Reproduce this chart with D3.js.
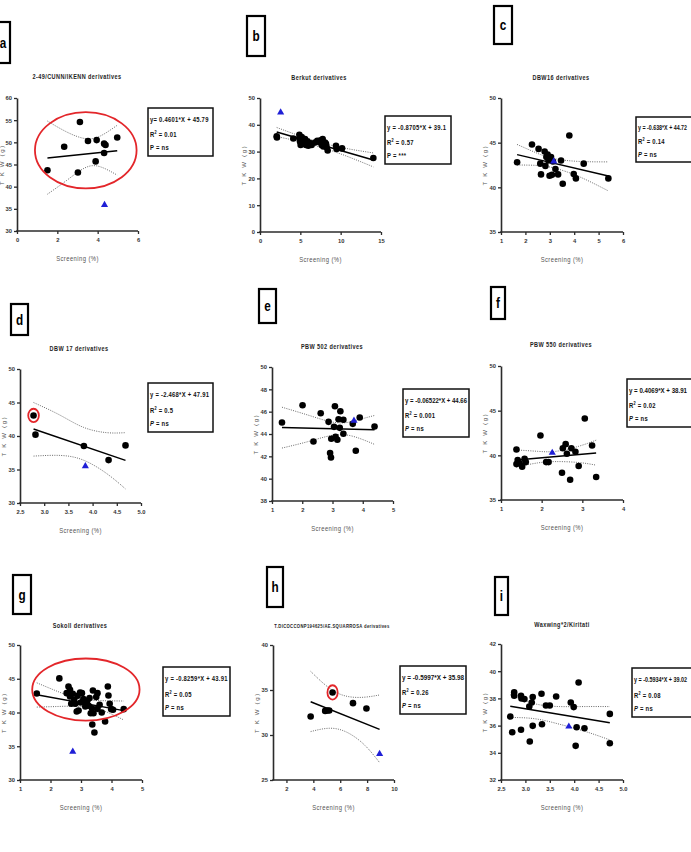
<!DOCTYPE html>
<html><head><meta charset="utf-8">
<script src="https://cdn.jsdelivr.net/npm/d3@7"></script>
<style>
body{margin:0;background:#fff;}
svg{display:block;}
text{font-family:"Liberation Sans",Arial,sans-serif;}
</style></head><body>
<svg id="chart" width="691" height="852"></svg>
<script>
// ---------- DATA ----------
// Panel a: 2-49/CUNN/IKENN derivatives
const a_title = "2-49/CUNN/IKENN derivatives";
const a_screening = [1.51, 2.34, 3.12, 3.02, 3.52, 3.95, 3.90, 4.32, 4.39, 4.32, 4.97];
const a_tkw = [43.7, 49.0, 54.6, 43.2, 50.3, 50.5, 45.7, 49.7, 49.4, 47.6, 51.1];
const a_parent = [4.34, 35.9];
const a_fit = [0.4601, 45.79];
const a_bandX = [1.51, 2.46, 3.37, 4.12, 4.97];
const a_bandUpper = [54.8, 52.35, 50.85, 51.4, 53.85];
const a_bandLower = [38.3, 41.4, 44.25, 44.5, 42.6];
const a_xTicks = [0, 2, 4, 6];
const a_yTicks = [30, 35, 40, 45, 50, 55, 60];
const a_eq = ["y= 0.4601*X + 45.79", "0.01", "ns"];
const a_ring = [3.41, 48.2, 2.52, 8.6];

// Panel b: Berkut derivatives
const b_title = "Berkut derivatives";
const b_screening = [2.07, 2.10, 4.13, 4.88, 4.88, 4.96, 5.04, 5.17, 5.29, 5.45, 5.58, 5.70, 5.87, 5.99, 6.20, 6.40, 6.82, 7.10, 7.36, 7.52, 7.64, 7.77, 7.85, 8.06, 8.18, 8.26, 8.39, 9.42, 9.50, 10.17, 14.05];
const b_tkw = [35.7, 35.3, 34.9, 36.3, 35.0, 33.8, 32.5, 35.4, 34.4, 33.2, 34.7, 32.5, 33.8, 32.2, 33.2, 32.5, 33.4, 34.0, 33.8, 34.2, 32.5, 34.7, 31.9, 33.4, 32.9, 31.6, 30.4, 32.2, 31.0, 31.2, 27.6];
const b_parent = [2.56, 44.6];
const b_fit = [-0.8705, 39.1];
const b_bandX = [2.07, 5, 8, 11, 14.05];
const b_bandUpper = [39.0, 35.8, 33.0, 31.0, 29.5];
const b_bandLower = [35.6, 33.7, 31.2, 28.0, 24.3];
const b_xTicks = [0, 5, 10, 15];
const b_yTicks = [0, 10, 20, 30, 40, 50];
const b_eq = ["y = -0.8705*X + 39.1", "0.57", "***"];

// Panel c: DBW16 derivatives
const c_title = "DBW16 derivatives";
const c_screening = [1.66, 2.27, 2.54, 2.61, 2.64, 2.79, 2.82, 2.86, 2.91, 2.95, 2.99, 3.05, 3.09, 3.13, 3.23, 3.34, 3.46, 3.53, 3.80, 3.98, 4.07, 4.39, 5.40];
const c_tkw = [42.8, 44.8, 44.3, 42.65, 41.45, 44.0, 42.4, 43.4, 43.66, 43.0, 41.3, 43.4, 41.4, 42.9, 42.05, 41.45, 43.0, 40.4, 45.8, 41.5, 41.0, 42.65, 41.0];
const c_parent = [3.16, 42.9];
const c_fit = [-0.638, 44.72];
const c_bandX = [1.66, 2.5, 3.2, 4.2, 5.4];
const c_bandUpper = [44.8, 43.8, 43.2, 42.9, 42.85];
const c_bandLower = [42.5, 42.45, 42.15, 41.2, 39.6];
const c_xTicks = [1, 2, 3, 4, 5, 6];
const c_yTicks = [35, 40, 45, 50];
const c_eq = ["y = -0.638*X + 44.72", "0.14", "ns"];

// Panel d: DBW 17 derivatives
const d_title = "DBW 17 derivatives";
const d_screening = [2.78, 2.82, 3.82, 4.33, 4.68];
const d_tkw = [43.07, 40.2, 38.5, 36.4, 38.6];
const d_parent = [3.85, 35.5];
const d_fit = [-2.468, 47.91];
const d_bandX = [2.78, 3.33, 3.81, 4.29, 4.68];
const d_bandUpper = [45.0, 43.1, 41.3, 40.5, 40.5];
const d_bandLower = [37.0, 37.1, 36.4, 34.4, 32.1];
const d_xTicks = [2.5, 3.0, 3.5, 4.0, 4.5, 5.0];
const d_yTicks = [30, 35, 40, 45, 50];
const d_eq = ["y = -2.468*X + 47.91", "0.5", "ns"];
const d_ring = [2.78, 43.07, 0.11, 1.0];

// Panel e: PBW 502 derivatives
const e_title = "PBW 502 derivatives";
const e_screening = [1.33, 2.01, 2.37, 2.61, 2.87, 2.92, 2.95, 2.96, 3.05, 3.08, 3.10, 3.16, 3.20, 3.26, 3.24, 3.36, 3.36, 3.67, 3.77, 3.90, 4.39];
const e_tkw = [45.03, 46.58, 43.33, 45.86, 45.09, 42.29, 41.9, 43.57, 44.64, 46.49, 43.75, 43.48, 45.32, 46.04, 44.55, 45.27, 44.02, 44.91, 42.5, 45.48, 44.67];
const e_parent = [3.71, 45.2];
const e_fit = [-0.06522, 44.66];
const e_bandX = [1.33, 2.3, 3.2, 3.9, 4.39];
const e_bandUpper = [46.4, 45.6, 45.0, 45.3, 45.66];
const e_bandLower = [42.74, 43.4, 43.95, 43.6, 43.07];
const e_xTicks = [1, 2, 3, 4, 5];
const e_yTicks = [38, 40, 42, 44, 46, 48, 50];
const e_eq = ["y = -0.06522*X + 44.66", "0.001", "ns"];

// Panel f: PBW 550 derivatives
const f_title = "PBW 550 derivatives";
const f_screening = [1.38, 1.38, 1.41, 1.46, 1.52, 1.58, 1.61, 1.97, 2.11, 2.17, 2.50, 2.52, 2.59, 2.62, 2.70, 2.73, 2.83, 2.91, 3.06, 3.24, 3.34];
const f_tkw = [40.66, 39.02, 39.47, 39.1, 38.72, 39.6, 39.24, 42.22, 39.24, 39.24, 38.05, 40.8, 41.25, 40.17, 37.27, 40.8, 40.4, 38.8, 44.12, 41.1, 37.57];
const f_parent = [2.26, 40.29];
const f_fit = [0.4069, 38.91];
const f_bandX = [1.38, 1.9, 2.35, 2.9, 3.34];
const f_bandUpper = [40.6, 40.45, 40.45, 41.0, 41.7];
const f_bandLower = [38.7, 39.15, 39.3, 39.2, 38.9];
const f_xTicks = [1, 2, 3, 4];
const f_yTicks = [35, 40, 45, 50];
const f_eq = ["y = 0.4069*X + 38.91", "0.02", "ns"];

// Panel g: Sokoll derivatives
const g_title = "Sokoll derivatives";
const g_screening = [1.55, 2.29, 2.53, 2.59, 2.64, 2.64, 2.68, 2.73, 2.78, 2.81, 2.86, 2.89, 2.92, 2.97, 2.99, 3.03, 3.08, 3.14, 3.17, 3.21, 3.25, 3.28, 3.32, 3.36, 3.37, 3.39, 3.41, 3.44, 3.50, 3.54, 3.54, 3.61, 3.68, 3.79, 3.88, 3.90, 3.94, 3.99, 4.05, 4.40];
const g_tkw = [42.82, 45.05, 42.87, 43.86, 43.37, 42.38, 41.29, 42.77, 41.88, 41.29, 40.15, 42.48, 40.3, 42.97, 41.49, 42.87, 41.98, 40.89, 41.49, 41.78, 40.99, 42.13, 39.9, 40.64, 38.22, 43.27, 39.9, 37.03, 42.28, 42.87, 40.54, 41.14, 40.0, 38.66, 43.86, 42.52, 41.29, 40.5, 40.4, 40.5];
const g_parent = [2.73, 34.2];
const g_fit = [-0.8259, 43.91];
const g_bandX = [1.55, 2.3, 3.0, 3.7, 4.4];
const g_bandUpper = [44.4, 43.0, 42.0, 41.75, 41.7];
const g_bandLower = [40.8, 40.9, 40.9, 40.3, 38.9];
const g_xTicks = [1, 2, 3, 4, 5];
const g_yTicks = [30, 35, 40, 45, 50];
const g_eq = ["y = -0.8259*X + 43.91", "0.05", "ns"];
const g_ring = [3.16, 43.4, 1.76, 4.6];

// Panel h: T.DICOCCONP194625/AE.SQUARROSA derivatives
const h_title = "T.DICOCCONP194625/AE.SQUARROSA derivatives";
const h_screening = [3.8, 4.88, 5.05, 5.18, 5.43, 6.95, 7.95];
const h_tkw = [32.05, 32.68, 32.72, 32.72, 34.73, 33.54, 32.94];
const h_parent = [8.93, 27.9];
const h_fit = [-0.5997, 35.98];
const h_bandX = [3.8, 5.2, 6.5, 7.8, 8.93];
const h_bandUpper = [37.07, 35.2, 34.3, 34.2, 34.45];
const h_bandLower = [30.38, 30.75, 30.3, 28.9, 26.93];
const h_xTicks = [2, 4, 6, 8, 10];
const h_xMin = 1;
const h_yTicks = [25, 30, 35, 40];
const h_eq = ["y = -0.5997*X + 35.98", "0.26", "ns"];
const h_ring = [5.43, 34.73, 0.38, 0.8];

// Panel i: Waxwing*2/Kiritati
const i_title = "Waxwing*2/Kiritati";
const i_screening = [2.69, 2.73, 2.77, 2.77, 2.91, 2.92, 2.98, 2.91, 3.08, 3.09, 3.13, 3.15, 3.15, 3.33, 3.34, 3.42, 3.50, 3.63, 3.93, 3.99, 4.03, 4.05, 4.09, 4.21, 4.73, 4.73];
const i_tkw = [36.67, 35.51, 38.44, 38.2, 38.2, 38.0, 37.95, 35.7, 37.4, 34.83, 37.7, 38.1, 35.98, 38.34, 36.1, 37.48, 37.48, 38.14, 37.7, 37.36, 34.51, 35.88, 39.17, 35.8, 36.86, 34.7];
const i_parent = [3.89, 35.93];
const i_fit = [-0.5934, 39.02];
const i_bandX = [2.69, 3.2, 3.7, 4.2, 4.73];
const i_bandUpper = [38.27, 37.6, 37.4, 37.4, 37.4];
const i_bandLower = [36.6, 36.5, 36.1, 35.6, 34.95];
const i_xTicks = [2.5, 3.0, 3.5, 4.0, 4.5, 5.0];
const i_yTicks = [32, 34, 36, 38, 40, 42];
const i_eq = ["y = -0.5934*X + 39.02", "0.08", "ns"];

const yLabel = "T K W  (g)";
const xLabel = "Screening (%)";

// ---------- LAYOUT (pixel positions) ----------
const panels = [
  {key:"a", title:a_title, xs:a_screening, ys:a_tkw, parent:a_parent, fit:a_fit, bx:a_bandX, bu:a_bandUpper, bl:a_bandLower, xt:a_xTicks, yt:a_yTicks, eq:a_eq, ring:a_ring,
   x0:17, x1:138, yT:98, yB:231, tx:77, ty:79, box:[148,108,65,48], lab:[-8,22,18,41], italicP:false, ylx:4},
  {key:"b", title:b_title, xs:b_screening, ys:b_tkw, parent:b_parent, fit:b_fit, bx:b_bandX, bu:b_bandUpper, bl:b_bandLower, xt:b_xTicks, yt:b_yTicks, eq:b_eq,
   x0:260, x1:381, yT:98, yB:232, tx:319, ty:80, box:[385,116,66,48], lab:[247,16,18,40], italicP:false},
  {key:"c", title:c_title, xs:c_screening, ys:c_tkw, parent:c_parent, fit:c_fit, bx:c_bandX, bu:c_bandUpper, bl:c_bandLower, xt:c_xTicks, yt:c_yTicks, eq:c_eq,
   x0:501, x1:623, yT:98, yB:232, tx:561, ty:80, box:[636,117,66,45], lab:[494,6,18,38], italicP:true},
  {key:"d", title:d_title, xs:d_screening, ys:d_tkw, parent:d_parent, fit:d_fit, bx:d_bandX, bu:d_bandUpper, bl:d_bandLower, xt:d_xTicks, yt:d_yTicks, eq:d_eq, ring:d_ring, fmt:".1f",
   x0:20, x1:141, yT:369, yB:503, tx:79, ty:351, box:[148,383,65,49], lab:[11,304,17,31], italicP:true},
  {key:"e", title:e_title, xs:e_screening, ys:e_tkw, parent:e_parent, fit:e_fit, bx:e_bandX, bu:e_bandUpper, bl:e_bandLower, xt:e_xTicks, yt:e_yTicks, eq:e_eq,
   x0:272, x1:393, yT:367, yB:501, tx:332, ty:349, box:[403,389,66,48], lab:[259,289,17,34], italicP:true},
  {key:"f", title:f_title, xs:f_screening, ys:f_tkw, parent:f_parent, fit:f_fit, bx:f_bandX, bu:f_bandUpper, bl:f_bandLower, xt:f_xTicks, yt:f_yTicks, eq:f_eq,
   x0:501, x1:623, yT:366, yB:500, tx:561, ty:347, box:[627,379,66,48], lab:[491,287,14,32], italicP:true},
  {key:"g", title:g_title, xs:g_screening, ys:g_tkw, parent:g_parent, fit:g_fit, bx:g_bandX, bu:g_bandUpper, bl:g_bandLower, xt:g_xTicks, yt:g_yTicks, eq:g_eq, ring:g_ring,
   x0:20, x1:142, yT:645, yB:780, tx:80, ty:628, box:[163,667,67,49], lab:[13,575,18,39], italicP:true},
  {key:"h", title:h_title, xs:h_screening, ys:h_tkw, parent:h_parent, fit:h_fit, bx:h_bandX, bu:h_bandUpper, bl:h_bandLower, xt:h_xTicks, xMin:h_xMin, yt:h_yTicks, eq:h_eq, ring:h_ring, small:true,
   x0:273, x1:394, yT:645, yB:780, tx:332, ty:628, box:[400,666,66,48], lab:[267,567,16,40], italicP:true},
  {key:"i", title:i_title, xs:i_screening, ys:i_tkw, parent:i_parent, fit:i_fit, bx:i_bandX, bu:i_bandUpper, bl:i_bandLower, xt:i_xTicks, yt:i_yTicks, eq:i_eq, fmt:".1f",
   x0:501, x1:623, yT:644, yB:780, tx:562, ty:627, box:[632,668,66,49], lab:[495,577,13,38], italicP:true}
];

const svg = d3.select("#chart");
const AX = "#2b2b2b";
const W = 691;
const SX = 0.84; // horizontal condensing of the narrow chart font

function condText(parent, x, y, anchor) {
  return parent.append("g").attr("transform", `translate(${x},${y}) scale(${SX},1)`)
    .append("text").attr("x", 0).attr("y", 0).attr("text-anchor", anchor || "start");
}
function squeeze(sel, maxW) {
  const len = sel.node().getComputedTextLength() * SX;
  if (len > maxW) {
    sel.attr("letter-spacing", 0);
    sel.attr("textLength", maxW / SX).attr("lengthAdjust", "spacingAndGlyphs");
  }
}

panels.forEach(p => {
  const g = svg.append("g");
  const xDom = [p.xMin !== undefined ? p.xMin : d3.min(p.xt), d3.max(p.xt)];
  const x = d3.scaleLinear().domain(xDom).range([p.x0, p.x1]);
  const y = d3.scaleLinear().domain(d3.extent(p.yt)).range([p.yB, p.yT]);

  // panel letter box
  g.append("rect").attr("x", p.lab[0]).attr("y", p.lab[1]).attr("width", p.lab[2]).attr("height", p.lab[3])
    .attr("fill", "#fff").attr("stroke", "#000").attr("stroke-width", 2.2);
  condText(g, p.lab[0] + p.lab[2] / 2 + (p.key === "a" ? 2 : 0), p.lab[1] + p.lab[3] / 2 + 5, "middle")
    .attr("font-size", 14).attr("font-weight", "bold").attr("fill", "#000").text(p.key);

  // title
  condText(g, p.tx, p.ty, "middle")
    .attr("font-size", p.small ? 5.0 : 6.6).attr("font-weight", "bold").attr("letter-spacing", p.small ? 0.4 : 0.5)
    .attr("fill", "#1e1e1e").text(p.title);

  // axes
  const xa = d3.axisBottom(x).tickValues(p.xt).tickSize(3).tickSizeOuter(0).tickPadding(4);
  if (p.fmt) xa.tickFormat(d3.format(p.fmt)); else xa.tickFormat(d3.format("d"));
  const ya = d3.axisLeft(y).tickValues(p.yt).tickSize(3).tickSizeOuter(0).tickPadding(2).tickFormat(d3.format("d"));
  const gx = g.append("g").attr("transform", `translate(0,${p.yB})`).call(xa);
  const gy = g.append("g").attr("transform", `translate(${p.x0},0)`).call(ya);
  [gx, gy].forEach(ax => {
    ax.select(".domain").attr("stroke", AX).attr("stroke-width", 1.6);
    ax.selectAll(".tick line").attr("stroke", AX).attr("stroke-width", 1.3);
    ax.selectAll(".tick text").attr("font-size", 5.8).attr("font-weight", "bold").attr("fill", "#333")
      .attr("font-family", "'Liberation Sans',Arial,sans-serif");
  });
  gx.select(".domain").attr("d", `M${p.x0 - 0.8},0H${p.x1}`);

  // axis labels
  condText(g, (p.x0 + p.x1) / 2, p.yB + 30, "middle")
    .attr("font-size", 7).attr("letter-spacing", 0.5).attr("fill", "#555").text(xLabel);
  const ylx = p.ylx !== undefined ? p.ylx : p.x0 - 14;
  g.append("text").attr("transform", `translate(${ylx},${(p.yT + p.yB) / 2}) rotate(-90)`)
    .attr("text-anchor", "middle").attr("font-size", 6).attr("letter-spacing", 1.7).attr("fill", "#555").text(yLabel);

  // confidence bands
  const bandLine = d3.line().x(d => x(d[0])).y(d => y(d[1])).curve(d3.curveNatural);
  [p.bu, p.bl].forEach(arr => {
    g.append("path").datum(p.bx.map((v, k) => [v, arr[k]])).attr("d", bandLine)
      .attr("fill", "none").attr("stroke", "#444").attr("stroke-width", 0.8).attr("stroke-dasharray", "1,1.3");
  });

  // regression line
  const ext = d3.extent(p.xs.concat([p.parent[0]]));
  const fitPts = ext.map(v => [v, p.fit[0] * v + p.fit[1]]);
  g.append("path").datum(fitPts).attr("d", d3.line().x(d => x(d[0])).y(d => y(d[1])))
    .attr("stroke", "#000").attr("stroke-width", 1.5).attr("fill", "none");

  // points
  g.selectAll("circle.pt").data(p.xs.map((v, k) => [v, p.ys[k]])).enter().append("circle")
    .attr("class", "pt").attr("cx", d => x(d[0])).attr("cy", d => y(d[1])).attr("r", 3.3).attr("fill", "#000");

  // parent (blue triangle)
  g.append("path").attr("d", d3.symbol().type(d3.symbolTriangle).size(22)())
    .attr("transform", `translate(${x(p.parent[0])},${y(p.parent[1])})`).attr("fill", "#1f1fd6");

  // red ring annotation
  if (p.ring) {
    const [cx, cy, rx, ry] = p.ring;
    g.append("ellipse").attr("cx", x(cx)).attr("cy", y(cy))
      .attr("rx", Math.abs(x(cx + rx) - x(cx))).attr("ry", Math.abs(y(cy + ry) - y(cy)))
      .attr("fill", "none").attr("stroke", "#e3262a").attr("stroke-width", 1.8);
  }

  // equation box
  const [bx0, by0, bw, bh] = p.box;
  g.append("rect").attr("x", bx0).attr("y", by0).attr("width", bw).attr("height", bh)
    .attr("fill", "#fff").attr("stroke", "#111").attr("stroke-width", 1.5);
  const maxW = Math.min(bw - 4, W - 4 - (bx0 + 2));
  const tAttrs = sel => sel.attr("font-size", 7).attr("font-weight", "bold").attr("letter-spacing", 0.3).attr("fill", "#111");
  const t1 = tAttrs(condText(g, bx0 + 2, by0 + bh * 0.29)).text(p.eq[0]);
  squeeze(t1, maxW);
  const r2 = tAttrs(condText(g, bx0 + 2, by0 + bh * 0.61));
  r2.append("tspan").text("R");
  r2.append("tspan").attr("dy", -3.2).attr("font-size", 4.6).text("2");
  r2.append("tspan").attr("dy", 3.2).text(" = " + p.eq[1]);
  const pt = tAttrs(condText(g, bx0 + 2, by0 + bh * 0.88));
  pt.append("tspan").attr("font-style", p.italicP ? "italic" : "normal").text("P");
  pt.append("tspan").text(" = " + p.eq[2]);
});
</script>
</body></html>
